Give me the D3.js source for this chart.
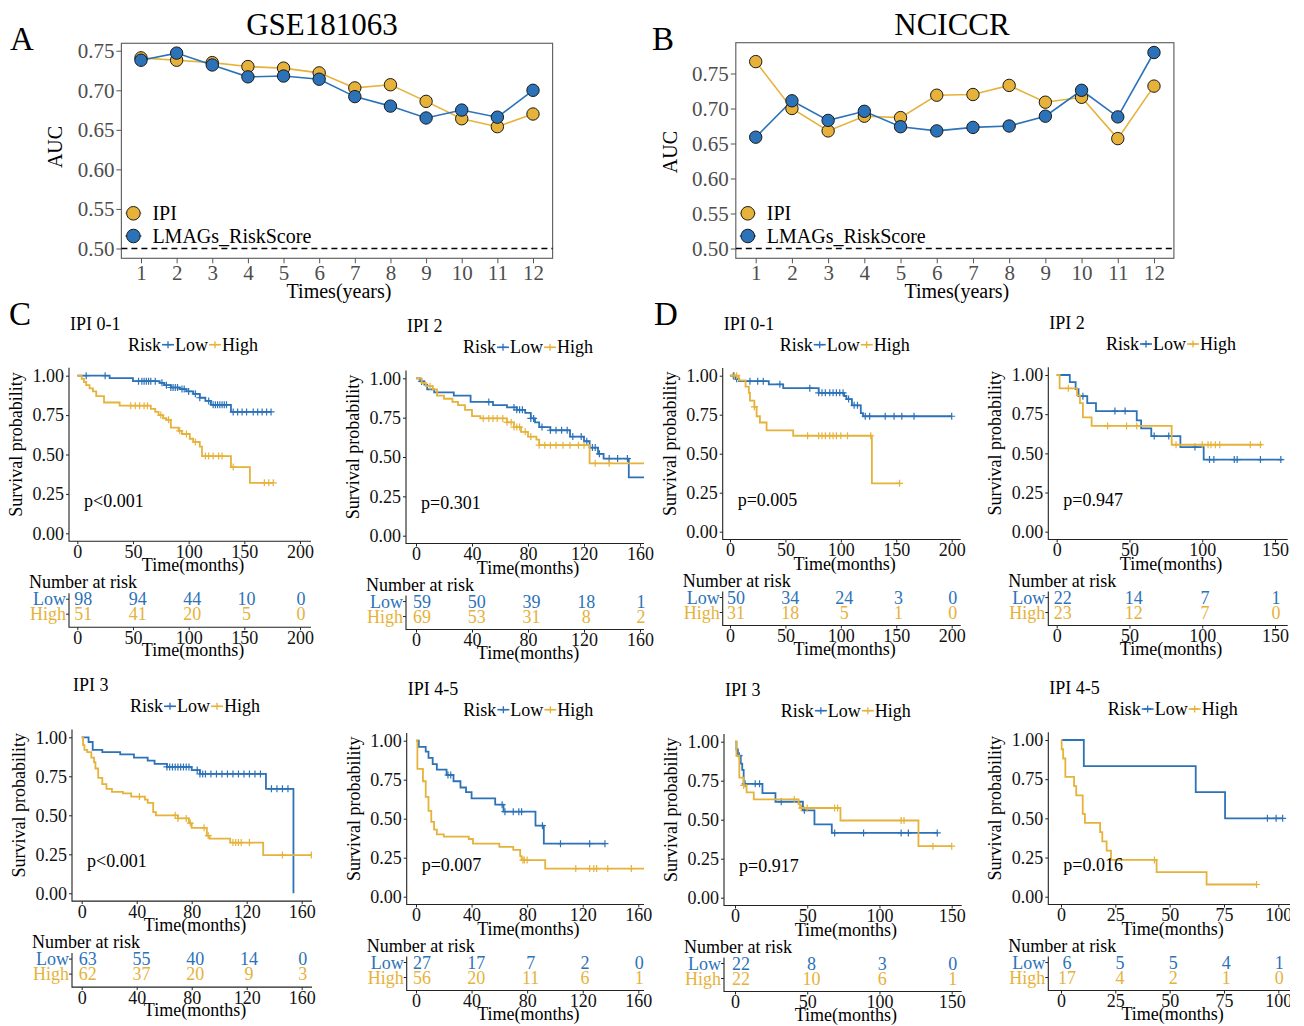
<!DOCTYPE html>
<html><head><meta charset="utf-8">
<script src="https://cdn.jsdelivr.net/npm/d3@7"></script>
<style>body{margin:0;background:#fff}svg{display:block}</style>
</head><body><svg id="c" width="1304" height="1026"></svg>
<script>
// ---------------- DATA ----------------
const years = [1,2,3,4,5,6,7,8,9,10,11,12];
const aucTicks = [0.50,0.55,0.60,0.65,0.70,0.75];
const gseIPI  = [0.741,0.738,0.735,0.730,0.728,0.722,0.703,0.707,0.686,0.664,0.654,0.670];
const gseRisk = [0.738,0.747,0.732,0.717,0.718,0.714,0.692,0.680,0.665,0.675,0.666,0.700];
const nciIPI  = [0.767,0.700,0.668,0.689,0.687,0.719,0.720,0.733,0.709,0.716,0.657,0.732];
const nciRisk = [0.659,0.711,0.683,0.696,0.674,0.668,0.673,0.675,0.689,0.726,0.688,0.780];

const survTicks = [0,0.25,0.5,0.75,1];
const ticks200 = [0,50,100,150,200];
const ticks160 = [0,40,80,120,160];
const ticks150 = [0,50,100,150];
const ticks100 = [0,25,50,75,100];

// GSE181063 IPI 0-1
const c1Low = [[0,1],[29,0.985],[50,0.965],[74,0.955],[78,0.94],[84,0.925],[92,0.915],[98,0.9],[104,0.885],[110,0.86],[115,0.84],[120,0.815],[138,0.77],[174,0.77]];
const c1LowCens = [8,25,55,58,60,62,64,66,70,76,80,84,86,88,90,94,96,100,106,110,118,122,124,126,128,130,132,134,140,144,148,152,158,162,166,170,174];
const c1High = [[0,1],[4,0.98],[6,0.96],[8,0.94],[11,0.92],[14,0.9],[17,0.87],[24,0.83],[38,0.81],[66,0.79],[70,0.77],[73,0.75],[77,0.73],[80,0.72],[84,0.67],[91,0.65],[94,0.63],[101,0.6],[104,0.58],[110,0.55],[112,0.49],[138,0.42],[155,0.32],[176,0.32]];
const c1HighCens = [48,52,56,60,63,75,82,92,98,106,115,118,122,127,130,140,168,172,176];
const c1LowRisk = [98,94,44,10,0];
const c1HighRisk = [51,41,20,5,0];
// GSE181063 IPI 2
const c2Low = [[0,1],[3,0.98],[6,0.96],[8,0.93],[13,0.91],[27,0.89],[39,0.85],[55,0.83],[65,0.815],[72,0.8],[78,0.78],[82,0.745],[85,0.72],[88,0.69],[96,0.67],[110,0.63],[120,0.6],[124,0.56],[130,0.52],[134,0.49],[152,0.37],[168,0.37]];
const c2LowCens = [4,52,70,72,74,76,82,84,90,96,100,104,108,112,118,122,126,128,131,138,144,151];
const c2High = [[0,1],[4,0.97],[7,0.95],[12,0.93],[15,0.89],[20,0.87],[26,0.85],[30,0.83],[35,0.8],[40,0.76],[46,0.745],[65,0.72],[70,0.69],[75,0.66],[80,0.63],[86,0.61],[88,0.575],[124,0.46],[168,0.46]];
const c2HighCens = [10,48,52,55,58,62,65,68,70,72,74,78,82,88,92,96,100,105,110,116,120,128,138,165];
const c2LowRisk = [59,50,39,18,1];
const c2HighRisk = [69,53,31,8,2];
// GSE181063 IPI 3
const c3Low = [[0,1],[5,0.97],[8,0.92],[15,0.905],[28,0.89],[38,0.87],[48,0.85],[53,0.83],[62,0.81],[80,0.79],[86,0.765],[134,0.67],[154,0.67],[154,0]];
const c3LowCens = [62,64,66,68,70,72,74,76,78,84,86,88,90,94,98,102,106,110,114,118,122,126,130,138,142,146,150];
const c3High = [[0,1],[1,0.95],[2,0.92],[4,0.905],[7,0.87],[9,0.84],[10,0.8],[12,0.74],[15,0.7],[18,0.67],[22,0.65],[30,0.64],[36,0.62],[46,0.6],[48,0.58],[52,0.52],[54,0.5],[70,0.48],[78,0.45],[80,0.42],[91,0.37],[93,0.35],[108,0.325],[132,0.245],[168,0.245]];
const c3HighCens = [42,68,70,76,79,89,92,110,112,114,116,122,146,167];
const c3LowRisk = [63,55,40,14,0];
const c3HighRisk = [62,37,20,9,3];
// GSE181063 IPI 4-5
const c4Low = [[0,1],[2,0.96],[7,0.93],[9,0.89],[12,0.85],[15,0.815],[22,0.78],[27,0.74],[32,0.7],[36,0.67],[40,0.63],[57,0.59],[63,0.545],[86,0.455],[92,0.34],[136,0.34]];
const c4LowCens = [23,25,62,64,70,74,76,91,104,125,136];
const c4High = [[0,1],[1,0.82],[5,0.74],[7,0.64],[9,0.55],[11,0.48],[13,0.43],[15,0.4],[20,0.385],[38,0.37],[41,0.34],[60,0.32],[70,0.3],[75,0.26],[76,0.235],[93,0.18],[168,0.18]];
const c4HighCens = [77,78,80,115,125,128,130,138,155];
const c4LowRisk = [27,17,7,2,0];
const c4HighRisk = [56,20,11,6,1];
// NCICCR IPI 0-1
const d1Low = [[0,1],[5,0.98],[8,0.965],[35,0.945],[48,0.92],[80,0.89],[103,0.87],[105,0.85],[110,0.81],[118,0.76],[120,0.74],[200,0.74]];
const d1LowCens = [3,6,18,25,30,45,72,80,83,86,90,93,96,99,102,107,112,115,122,126,140,148,155,166,200];
const d1High = [[0,1],[8,0.97],[14,0.93],[17,0.89],[18,0.84],[22,0.8],[24,0.74],[27,0.7],[33,0.65],[57,0.615],[128,0.31],[153,0.31]];
const d1HighCens = [4,6,22,70,80,83,86,90,93,96,100,106,127,153];
const d1LowRisk = [50,34,24,3,0];
const d1HighRisk = [31,18,5,1,0];
// NCICCR IPI 2
const d2Low = [[0,1],[9,0.955],[13,0.91],[15,0.865],[21,0.82],[27,0.77],[55,0.71],[58,0.66],[65,0.61],[85,0.54],[101,0.46],[155,0.46]];
const d2LowCens = [18,40,47,67,77,95,105,108,122,124,140,154];
const d2High = [[0,1],[2,0.915],[14,0.87],[16,0.82],[18,0.73],[24,0.675],[79,0.555],[141,0.555]];
const d2HighCens = [8,35,48,55,82,100,104,106,109,112,133,140];
const d2LowRisk = [22,14,7,1];
const d2HighRisk = [23,12,7,0];
// NCICCR IPI 3
const d3Low = [[0,1],[1,0.95],[2,0.91],[4,0.86],[5,0.82],[6,0.73],[19,0.67],[28,0.615],[47,0.56],[55,0.47],[67,0.415],[140,0.415]];
const d3LowCens = [3,7,14,17,32,48,69,89,115,120,140];
const d3High = [[0,1],[1,0.91],[3,0.77],[6,0.72],[8,0.675],[13,0.63],[44,0.6],[45,0.575],[73,0.495],[127,0.33],[150,0.33]];
const d3HighCens = [6,41,46,50,69,71,115,117,137,150];
const d3LowRisk = [22,8,3,0];
const d3HighRisk = [22,10,6,1];
// NCICCR IPI 4-5
const d4Low = [[0,1],[10.5,0.833],[62,0.667],[75.5,0.5],[102,0.5]];
const d4LowCens = [95,99,102];
const d4High = [[0,1],[0.3,0.941],[1,0.882],[2,0.765],[6,0.706],[7,0.647],[10,0.529],[11,0.471],[18,0.412],[19,0.353],[21,0.294],[23,0.235],[44,0.157],[67,0.078],[90,0.078]];
const d4HighCens = [43,90];
const d4LowRisk = [6,5,5,4,1];
const d4HighRisk = [17,4,2,1,0];

// ---------------- DRAWING ----------------
const FONT = '"Liberation Serif","Times New Roman",serif';
const BLUE = "#2C72B8", ORANGE = "#E6B23A";
const svg = d3.select("#c").attr("font-family", FONT);
let clipN = 0;

function txt(g, x, y, s, size, opts = {}) {
  const t = g.append("text").attr("x", x).attr("y", y).text(s)
    .attr("font-size", size).attr("fill", opts.fill || "#000")
    .attr("text-anchor", opts.anchor || "start");
  if (opts.rotate) t.attr("transform", `rotate(-90,${x},${y})`);
  return t;
}

// Panel letters
txt(svg, 10, 50, "A", 33);
txt(svg, 652, 50, "B", 33);
txt(svg, 9, 325, "C", 33);
txt(svg, 654, 325, "D", 33);

function aucPanel(cfg, ipi, risk) {
  const g = svg.append("g");
  const x = d3.scaleLinear().domain([0.45, 12.55]).range([cfg.left, cfg.right]);
  const y = d3.scaleLinear().domain(cfg.ydom).range([cfg.bottom, cfg.top]);
  g.append("rect").attr("x", cfg.left).attr("y", cfg.top)
    .attr("width", cfg.right - cfg.left).attr("height", cfg.bottom - cfg.top)
    .attr("fill", "none").attr("stroke", "#666").attr("stroke-width", 1.2);
  g.append("line").attr("x1", cfg.left).attr("x2", cfg.right)
    .attr("y1", y(0.5)).attr("y2", y(0.5))
    .attr("stroke", "#000").attr("stroke-width", 1.4).attr("stroke-dasharray", "6,4");
  const line = d3.line().x((d, i) => x(years[i])).y(d => y(d));
  g.append("path").attr("d", line(ipi)).attr("fill", "none").attr("stroke", ORANGE).attr("stroke-width", 1.6);
  g.append("path").attr("d", line(risk)).attr("fill", "none").attr("stroke", BLUE).attr("stroke-width", 1.6);
  [[ipi, ORANGE], [risk, BLUE]].forEach(([arr, col]) => {
    g.selectAll(null).data(arr).enter().append("circle")
      .attr("cx", (d, i) => x(years[i])).attr("cy", d => y(d)).attr("r", 6.2)
      .attr("fill", col).attr("stroke", "#1a1a1a").attr("stroke-width", 1);
  });
  const ya = d3.axisLeft(y).tickValues(aucTicks).tickFormat(d3.format(".2f")).tickSize(5).tickPadding(2);
  const yg = g.append("g").attr("transform", `translate(${cfg.left},0)`).call(ya);
  const xa = d3.axisBottom(x).tickValues(years).tickSize(5).tickPadding(2);
  const xg = g.append("g").attr("transform", `translate(0,${cfg.bottom})`).call(xa);
  [yg, xg].forEach(a => {
    a.attr("font-family", FONT).attr("font-size", 21);
    a.select(".domain").remove();
    a.selectAll("line").attr("stroke", "#555");
    a.selectAll("text").attr("fill", "#4d4d4d");
  });
  txt(g, cfg.titleX, 35, cfg.title, 31, { anchor: "middle" });
  txt(g, (cfg.left + cfg.right) / 2 + 2, 298, "Times(years)", 20, { anchor: "middle" });
  txt(g, cfg.left - 59, cfg.ylabY, "AUC", 20, { anchor: "middle", rotate: true });
  // legend
  [["IPI", ORANGE, 213.3], ["LMAGs_RiskScore", BLUE, 236]].forEach(([lab, col, ly]) => {
    g.append("line").attr("x1", cfg.left + 4).attr("x2", cfg.left + 20).attr("y1", ly).attr("y2", ly)
      .attr("stroke", col).attr("stroke-width", 1.6);
    g.append("circle").attr("cx", cfg.left + 12).attr("cy", ly).attr("r", 6.8)
      .attr("fill", col).attr("stroke", "#1a1a1a").attr("stroke-width", 1);
    txt(g, cfg.left + 31, ly + 7, lab, 20);
  });
}

aucPanel({ left: 121.4, right: 552.6, top: 43.3, bottom: 258.3, ydom: [0.4876, 0.7594],
  title: "GSE181063", titleX: 322, ylabY: 147 }, gseIPI, gseRisk);
aucPanel({ left: 735.8, right: 1173.9, top: 42.7, bottom: 258.3, ydom: [0.486, 0.794],
  title: "NCICCR", titleX: 952, ylabY: 152 }, nciIPI, nciRisk);

function survAt(s, t) {
  let v = s[0][1];
  for (const d of s) if (d[0] <= t) v = d[1];
  return v;
}

function kmPanel(p) {
  const root = svg.append("g");
  if (p.clipX) {
    const id = "pc" + (clipN++);
    svg.append("clipPath").attr("id", id).append("rect").attr("x", 0).attr("y", 0).attr("width", p.clipX).attr("height", 1026);
    root.attr("clip-path", `url(#${id})`);
  }
  const g = root.append("g");
  const x = d3.scaleLinear().domain([0, p.tmax]).range([p.x0, p.xm]);
  // risk-table number positions are squeezed slightly inwards, as in the reference
  const xn = d3.scaleLinear().domain([0, p.tmax]).range([p.x0 + 6, p.xm + 1]);
  const y = d3.scaleLinear().domain([0, 1]).range([p.y0, p.y1]);
  const ext = 0.05 * (p.y0 - p.y1);
  const top = p.y1 - ext, axY = p.y0 + ext;

  const cid = "cc" + (clipN++);
  svg.append("clipPath").attr("id", cid).append("rect")
    .attr("x", p.ax).attr("y", top - 6).attr("width", p.right - p.ax).attr("height", axY - top + 12);
  const cg = g.append("g").attr("clip-path", `url(#${cid})`);
  const line = d3.line().x(d => x(d[0])).y(d => y(d[1])).curve(d3.curveStepAfter);
  [[p.low, p.lowC, BLUE], [p.high, p.highC, ORANGE]].forEach(([s, c, col]) => {
    cg.append("path").attr("d", line(s)).attr("fill", "none").attr("stroke", col).attr("stroke-width", 1.8);
    cg.selectAll(null).data(c).enter().append("path")
      .attr("d", t => { const cx = x(t), cy = y(survAt(s, t)); return `M${cx - 3.5},${cy}H${cx + 3.5}M${cx},${cy - 3.5}V${cy + 3.5}`; })
      .attr("stroke", col).attr("stroke-width", 1.2).attr("fill", "none");
  });

  // axes
  const styleAxis = a => {
    a.attr("font-family", FONT).attr("font-size", 18);
    a.select(".domain").remove();
    a.selectAll("line").attr("stroke", "#222");
    a.selectAll("text").attr("fill", "#111");
  };
  g.append("g").attr("transform", `translate(${p.ax},0)`)
    .call(d3.axisLeft(y).tickValues(survTicks).tickFormat(d3.format(".2f")).tickSize(3).tickPadding(2)).call(styleAxis);
  g.append("g").attr("transform", `translate(0,${axY})`)
    .call(d3.axisBottom(x).tickValues(p.ticks).tickSize(3).tickPadding(1)).call(styleAxis);
  g.append("path").attr("d", `M${p.ax},${top}V${axY}H${p.right}`).attr("fill", "none").attr("stroke", "#222").attr("stroke-width", 1.1);

  const cx = (p.ax + p.right) / 2 + 3;
  txt(g, p.ax + 1, p.y1 - 46, p.title, 18);
  txt(g, p.ax - 47, (p.y1 + p.y0) / 2 - 10, "Survival probability", 18, { anchor: "middle", rotate: true });
  txt(g, cx, axY + 30, "Time(months)", 18, { anchor: "middle" });
  txt(g, p.ax + 15, y(0.25) + 13, p.pval, 18);

  // legend
  const lg = g.append("g");
  let lx = 0;
  [["Risk"], [null, BLUE], ["Low"], [null, ORANGE], ["High"]].forEach(([t, col]) => {
    if (t) {
      const e = lg.append("text").attr("x", lx).attr("y", 0).attr("font-size", 18).text(t);
      lx += e.node().getComputedTextLength();
    } else {
      lg.append("line").attr("x1", lx + 1).attr("x2", lx + 13).attr("y1", -6).attr("y2", -6).attr("stroke", col).attr("stroke-width", 1.6);
      lg.append("path").attr("d", `M${lx + 3.5},-6H${lx + 10.5}M${lx + 7},-9.5V-2.5`).attr("stroke", col).attr("stroke-width", 1.3);
      lx += 14;
    }
  });
  lg.attr("transform", `translate(${cx - lx / 2},${p.y1 - 25})`);

  // risk table
  const tY = axY + 86;
  txt(g, p.ax - 40, axY + 47, "Number at risk", 18);
  [[p.lowR, "Low", BLUE, axY + 64], [p.highR, "High", ORANGE, axY + 79]].forEach(([vals, lab, col, by]) => {
    txt(g, p.ax - 3, by, lab, 18, { anchor: "end", fill: col });
    g.append("line").attr("x1", p.ax - 3).attr("x2", p.ax).attr("y1", by - 6).attr("y2", by - 6).attr("stroke", "#222");
    vals.forEach((v, i) => txt(g, xn(p.ticks[i]), by, String(v), 18, { anchor: "middle", fill: col }));
  });
  g.append("g").attr("transform", `translate(0,${tY})`)
    .call(d3.axisBottom(x).tickValues(p.ticks).tickSize(3).tickPadding(1)).call(styleAxis);
  g.append("path").attr("d", `M${p.ax},${axY + 52}V${tY}H${p.right}`).attr("fill", "none").attr("stroke", "#222").attr("stroke-width", 1.1);
  txt(g, cx, tY + 29, "Time(months)", 18, { anchor: "middle" });
}

kmPanel({ title: "IPI 0-1", pval: "p<0.001", ax: 69, y1: 375.7, y0: 533.3, x0: 77.3, xm: 300, tmax: 200, right: 311,
  ticks: ticks200, low: c1Low, lowC: c1LowCens, high: c1High, highC: c1HighCens, lowR: c1LowRisk, highR: c1HighRisk });
kmPanel({ title: "IPI 2", pval: "p=0.301", ax: 406, y1: 378.3, y0: 535.7, x0: 416, xm: 640, tmax: 160, right: 644,
  ticks: ticks160, low: c2Low, lowC: c2LowCens, high: c2High, highC: c2HighCens, lowR: c2LowRisk, highR: c2HighRisk });
kmPanel({ title: "IPI 3", pval: "p<0.001", ax: 72, y1: 737.3, y0: 893.3, x0: 81.7, xm: 301.7, tmax: 160, right: 312,
  ticks: ticks160, low: c3Low, lowC: c3LowCens, high: c3High, highC: c3HighCens, lowR: c3LowRisk, highR: c3HighRisk });
kmPanel({ title: "IPI 4-5", pval: "p=0.007", ax: 406.7, y1: 740.7, y0: 896.7, x0: 416, xm: 638.3, tmax: 160, right: 644,
  ticks: ticks160, low: c4Low, lowC: c4LowCens, high: c4High, highC: c4HighCens, lowR: c4LowRisk, highR: c4HighRisk });
kmPanel({ title: "IPI 0-1", pval: "p=0.005", ax: 722.7, y1: 375.7, y0: 531.7, x0: 730, xm: 951.7, tmax: 200, right: 960.7,
  ticks: ticks200, low: d1Low, lowC: d1LowCens, high: d1High, highC: d1HighCens, lowR: d1LowRisk, highR: d1HighRisk });
kmPanel({ title: "IPI 2", pval: "p=0.947", ax: 1048.3, y1: 375, y0: 531.7, x0: 1056.7, xm: 1275, tmax: 150, right: 1287.7,
  ticks: ticks150, low: d2Low, lowC: d2LowCens, high: d2High, highC: d2HighCens, lowR: d2LowRisk, highR: d2HighRisk });
kmPanel({ title: "IPI 3", pval: "p=0.917", ax: 724, y1: 741.7, y0: 897.7, x0: 735, xm: 951.7, tmax: 150, right: 961.7,
  ticks: ticks150, low: d3Low, lowC: d3LowCens, high: d3High, highC: d3HighCens, lowR: d3LowRisk, highR: d3HighRisk });
kmPanel({ title: "IPI 4-5", pval: "p=0.016", ax: 1048.3, y1: 740, y0: 896.7, x0: 1061, xm: 1278.3, tmax: 100, right: 1291, clipX: 1290,
  ticks: ticks100, low: d4Low, lowC: d4LowCens, high: d4High, highC: d4HighCens, lowR: d4LowRisk, highR: d4HighRisk });
</script></body></html>
